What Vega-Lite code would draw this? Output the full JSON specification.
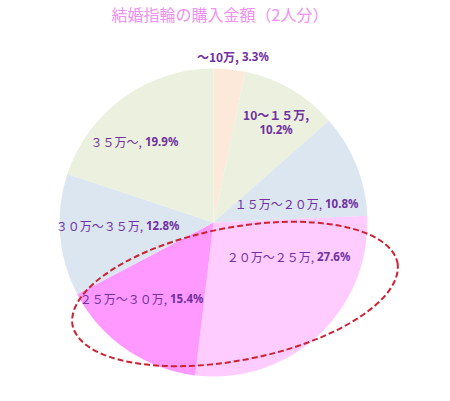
{
  "$schema": "https://vega.github.io/schema/vega-lite/v6.json",
  "width": 427,
  "height": 357,
  "autosize": {"type": "none"},
  "padding": {"top": 44, "left": 0, "right": 23, "bottom": 0},
  "background": "white",
  "view": {"stroke": null},
  "title": {
    "text": "結婚指輪の購入金額（2人分）",
    "font": "Noto Sans CJK JP",
    "fontSize": 16,
    "fontWeight": "normal",
    "color": "#f090f0",
    "anchor": "middle",
    "dx": 6.5,
    "offset": 20
  },
  "data": {
    "values": [
      {"i": 0, "cat": "～10万,", "v": 0.033},
      {"i": 1, "cat": "10～１５万,", "v": 0.102},
      {"i": 2, "cat": "１５万～２０万,", "v": 0.108},
      {"i": 3, "cat": "２０万～２５万,", "v": 0.276},
      {"i": 4, "cat": "２５万～３０万,", "v": 0.154},
      {"i": 5, "cat": "３０万～３５万,", "v": 0.128},
      {"i": 6, "cat": "３５万～,", "v": 0.199}
    ]
  },
  "layer": [
    {
      "mark": {"type": "arc", "radius": 154},
      "encoding": {
        "theta": {"field": "v", "type": "quantitative", "stack": true},
        "order": {"field": "i", "type": "quantitative"},
        "color": {
          "field": "cat",
          "type": "nominal",
          "scale": {
            "domain": ["～10万,", "10～１５万,", "１５万～２０万,", "２０万～２５万,", "２５万～３０万,", "３０万～３５万,", "３５万～,"],
            "range": ["#fde9d9", "#ebf1de", "#dce6f1", "#ffccff", "#ff99ff", "#dce6f1", "#ebf1de"]
          },
          "legend": null
        }
      }
    },
    {
      "mark": {
        "type": "text",
        "font": "Noto Sans CJK JP",
        "fontSize": 12,
        "color": "#7030a0",
        "baseline": "middle",
        "radius": {"expr": "[166.6,117.1,110.9,107.5,89.9,69.6,106.3][datum.i]"},
        "thetaOffset": {"expr": "[0.056,0.036,0.225,-0.487,-0.073,0.017,-0.101][datum.i]"},
        "align": {"expr": "datum.i == 1 ? 'center' : 'right'"},
        "dy": {"expr": "datum.i == 1 ? -7.5 : 0"},
        "dx": {"expr": "datum.i == 1 ? 0 : -1"},
        "fontWeight": {"expr": "datum.i < 2 ? 'bold' : 'normal'"}
      },
      "encoding": {
        "theta": {"field": "v", "type": "quantitative", "stack": true},
        "order": {"field": "i", "type": "quantitative"},
        "text": {"field": "cat", "type": "nominal"}
      }
    },
    {
      "mark": {
        "type": "text",
        "font": "Noto Sans",
        "fontSize": 11.5,
        "fontWeight": "bold",
        "color": "#7030a0",
        "baseline": "middle",
        "radius": {"expr": "[166.6,117.1,110.9,107.5,89.9,69.6,106.3][datum.i]"},
        "thetaOffset": {"expr": "[0.056,0.036,0.225,-0.487,-0.073,0.017,-0.101][datum.i]"},
        "align": {"expr": "datum.i == 1 ? 'center' : 'left'"},
        "dy": {"expr": "datum.i == 1 ? 7.5 : 0"},
        "dx": {"expr": "datum.i == 1 ? 0 : 2"}
      },
      "encoding": {
        "theta": {"field": "v", "type": "quantitative", "stack": true},
        "order": {"field": "i", "type": "quantitative"},
        "text": {"field": "v", "type": "quantitative", "format": ".1%"}
      }
    },
    {
      "data": {"values": [{"note": "20万～30万"}]},
      "mark": {
        "type": "point",
        "shape": "M184,40.2 A165.5,67.2,-10.9,0,1,-141,102.8 A165.5,67.2,-10.9,0,1,184,40.2 Z",
        "size": 4,
        "filled": false,
        "fill": null,
        "stroke": "#cc2233",
        "strokeWidth": 2,
        "strokeDash": [6, 3],
        "opacity": 1
      },
      "encoding": {}
    }
  ]
}
